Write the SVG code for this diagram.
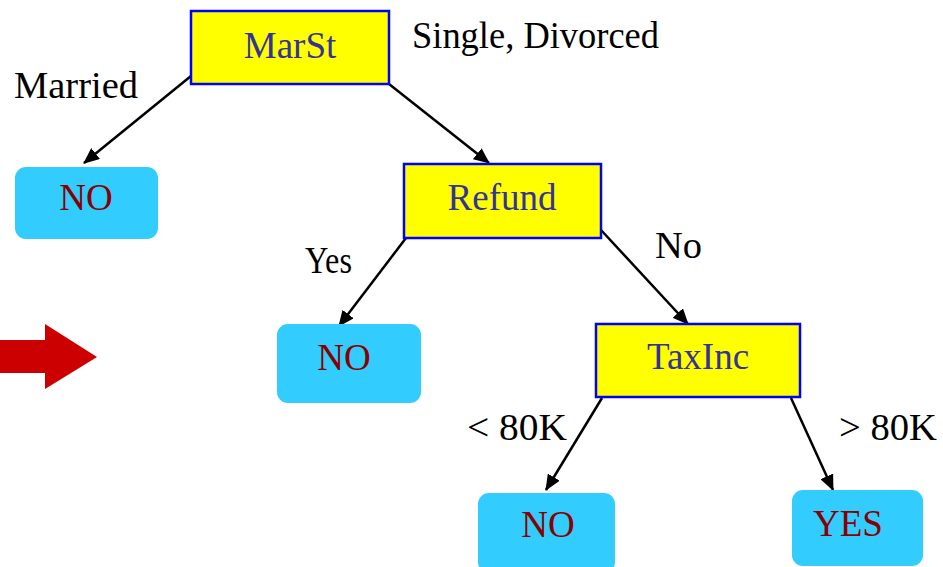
<svg xmlns="http://www.w3.org/2000/svg" width="943" height="567" viewBox="0 0 943 567">
  <style>
    .split { fill: #ffff00; stroke: #0000ff; stroke-width: 2.5; }
    .leaf { fill: #33ccff; }
    .split-text { font-family: "Liberation Serif", "Times New Roman", serif; font-size: 37px; fill: #33339a; text-anchor: middle; }
    .leaf-text { font-family: "Liberation Serif", "Times New Roman", serif; font-size: 37px; fill: #880000; text-anchor: middle; }
    .label { font-family: "Liberation Serif", "Times New Roman", serif; font-size: 37px; fill: #000000; }
    .edge { stroke: #000000; stroke-width: 2.5; fill: none; marker-end: url(#head); }
  </style>
  <defs>
    <marker id="head" viewBox="0 0 16 14" refX="15" refY="7" markerWidth="16" markerHeight="14" markerUnits="userSpaceOnUse" orient="auto">
      <path d="M0,0 L16,7 L0,14 Z" fill="#000000"/>
    </marker>
  </defs>

  <rect width="943" height="567" fill="#ffffff"/>

  <!-- big red arrow on the left -->
  <g id="pointer">
    <polygon points="0,340 45,340 45,324 97,357 45,389 45,373 0,373" fill="#cc0000"/>
  </g>

  <!-- connectors -->
  <g id="connectors">
    <line class="edge" x1="191" y1="76" x2="84" y2="163"/>
    <line class="edge" x1="389" y1="84" x2="489" y2="163"/>
    <line class="edge" x1="406" y1="238" x2="339" y2="326"/>
    <line class="edge" x1="601" y1="230" x2="688" y2="324"/>
    <line class="edge" x1="602" y1="398" x2="546" y2="490"/>
    <line class="edge" x1="791" y1="398" x2="833" y2="490"/>
  </g>

  <!-- edge labels -->
  <g id="edge-labels">
    <text class="label" x="14" y="98" textLength="124" lengthAdjust="spacingAndGlyphs">Married</text>
    <text class="label" x="412" y="48" textLength="247" lengthAdjust="spacingAndGlyphs">Single, Divorced</text>
    <text class="label" x="305" y="273" textLength="47" lengthAdjust="spacingAndGlyphs">Yes</text>
    <text class="label" x="655" y="258" textLength="47" lengthAdjust="spacingAndGlyphs">No</text>
    <text class="label" x="467" y="440" textLength="100" lengthAdjust="spacingAndGlyphs">&lt; 80K</text>
    <text class="label" x="839" y="440" textLength="98" lengthAdjust="spacingAndGlyphs">&gt; 80K</text>
  </g>

  <!-- split nodes -->
  <g id="node-marst">
    <rect class="split" x="191" y="11" width="198" height="73"/>
    <text class="split-text" x="290" y="58">MarSt</text>
  </g>
  <g id="node-refund">
    <rect class="split" x="404" y="164" width="197" height="74"/>
    <text class="split-text" x="502" y="210">Refund</text>
  </g>
  <g id="node-taxinc">
    <rect class="split" x="596" y="324" width="204" height="73"/>
    <text class="split-text" x="698" y="369">TaxInc</text>
  </g>

  <!-- leaf nodes -->
  <g id="leaf-married-no">
    <rect class="leaf" x="15" y="167" width="143" height="72" rx="11"/>
    <text class="leaf-text" x="86" y="210">NO</text>
  </g>
  <g id="leaf-refund-no">
    <rect class="leaf" x="277" y="324" width="144" height="79" rx="11"/>
    <text class="leaf-text" x="344" y="370">NO</text>
  </g>
  <g id="leaf-low-no">
    <rect class="leaf" x="478" y="493" width="137" height="80" rx="11"/>
    <text class="leaf-text" x="548" y="537">NO</text>
  </g>
  <g id="leaf-high-yes">
    <rect class="leaf" x="792" y="490" width="131" height="76" rx="11"/>
    <text class="leaf-text" x="848" y="536">YES</text>
  </g>
</svg>
